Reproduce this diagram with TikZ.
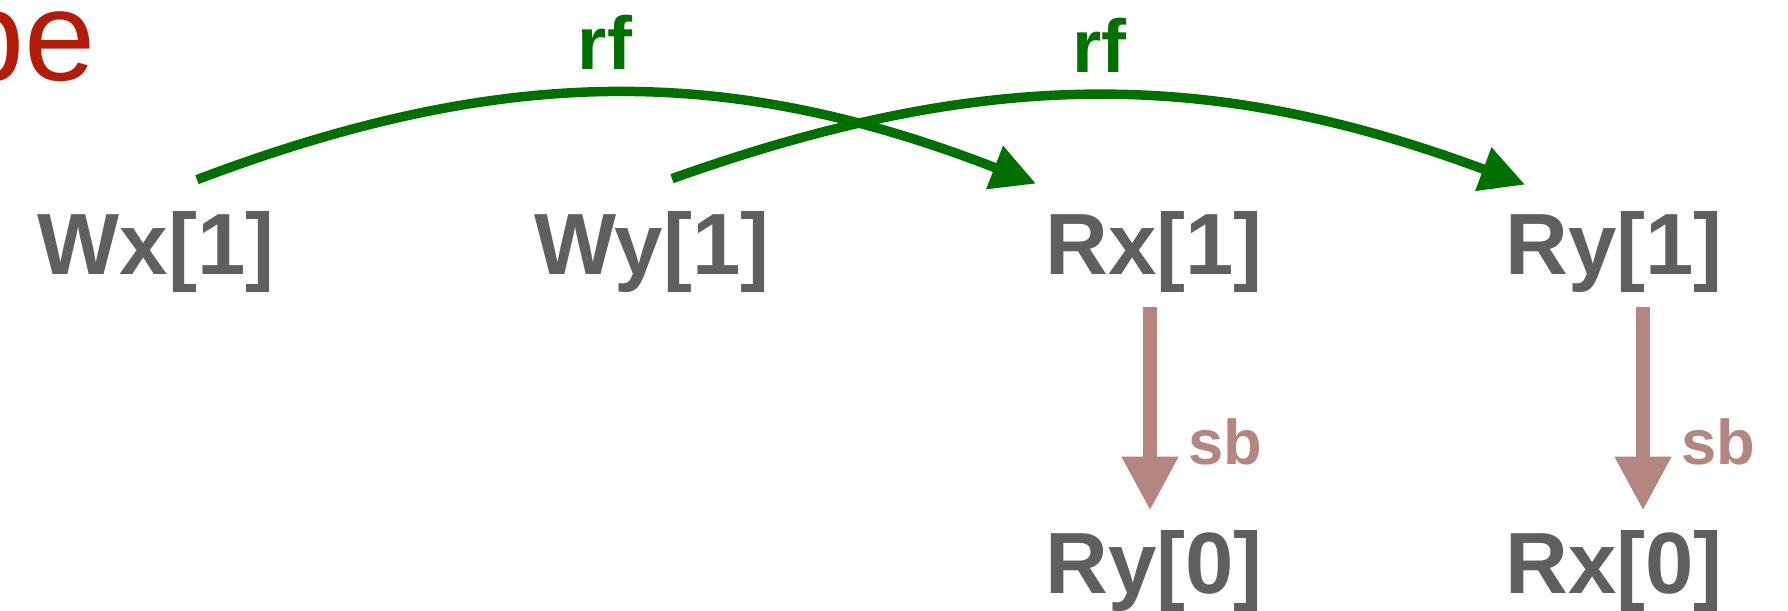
\documentclass[tikz,border=0pt]{standalone}
\usepackage{fontspec}
\setmainfont{Liberation Sans}
\setsansfont{Liberation Sans}
\usetikzlibrary{
  arrows.meta,
  positioning,
  calc
}
\definecolor{evgray}{HTML}{5F5F5F}
\definecolor{rfgreen}{HTML}{007000}
\definecolor{sbrose}{HTML}{B5857F}
\definecolor{titlered}{HTML}{B41C0A}

\begin{document}
\begin{tikzpicture}[
    x=0.02cm, y=0.02cm,
    every node/.style={font=\sffamily},
    event/.style={font=\sffamily\fontsize{49.5}{59}\selectfont\bfseries,
                  text=evgray, inner sep=0pt, anchor=base},
    rflabel/.style={font=\sffamily\fontsize{42.7}{51}\selectfont\bfseries,
                    text=rfgreen, inner sep=0pt},
    sblabel/.style={font=\sffamily\fontsize{36}{43}\selectfont\bfseries,
                    text=sbrose, inner sep=0pt},
    heading/.style={font=\sffamily\fontsize{72.8}{87}\selectfont,
                    text=titlered, inner sep=0pt},
    rfarrow/.style={-{Triangle[length=0.89cm, width=0.88cm]},
                    line width=0.19cm, rfgreen},
    sbarrow/.style={-{Triangle[length=1.08cm, width=1.06cm]},
                    line width=0.28cm, sbrose},
]

\path[use as bounding box, fill=white] (0,0) rectangle (1788,610);

% Slide title, runs off the left edge
\node[heading, anchor=base east] (ttl) at (96,530) {be};

% Thread events, top row
\node[event] (wx1) at (156,336) {Wx[1]};
\node[event] (wy1) at (652,336) {Wy[1]};
\node[event] (rx1) at (1154,336) {Rx[1]};
\node[event] (ry1) at (1614,336) {Ry[1]};

% Thread events, bottom row
\node[event] (ry0) at (1154,17) {Ry[0]};
\node[event] (rx0) at (1614,17) {Rx[0]};

% Reads-from edges
\draw[rfarrow] ($(wx1.north)+(41,31)$) to[bend left=21]
  node[rflabel, midway, above=0.38cm, xshift=-0.24cm] (rfx) {rf} ($(rx1.north)+(-118,27)$);
\draw[rfarrow] ($(wy1.north)+(20,32)$) to[bend left=20]
  node[rflabel, midway, above=0.38cm] (rfy) {rf} ($(ry1.north)+(-89,26)$);

% Sequenced-before edges
\draw[sbarrow] ($(rx1.south)+(-4,-15)$) --
  node[sblabel, pos=0.66, right=0.62cm] (sbx) {sb} ($(ry0.north)+(-4,19)$);
\draw[sbarrow] ($(ry1.south)+(29,-15)$) --
  node[sblabel, pos=0.66, right=0.62cm] (sby) {sb} ($(rx0.north)+(29,19)$);

\end{tikzpicture}
\end{document}
